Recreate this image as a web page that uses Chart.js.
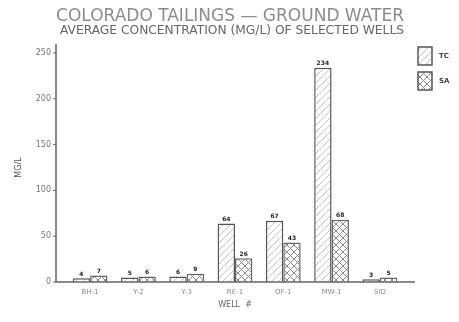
<!DOCTYPE html>
<html>
<head>
<meta charset="utf-8">
<script src="https://cdn.jsdelivr.net/npm/chart.js@4.4.1/dist/chart.umd.min.js"></script>
<style>
  html, body { margin: 0; padding: 0; background: #fff; }
  #wrap { width: 459px; height: 322px; }
</style>
</head>
<body>
<div id="wrap"><canvas id="wellChart" width="459" height="322"></canvas></div>
<script>
// data (MG/L)
const wells = ['BH-1', 'Y-2', 'Y-3', 'RE-1', 'OF-1', 'MW-1', 'SID'];
const tcValues = [4, 5, 6, 64, 67, 234, 3];
const saValues = [7, 6, 9, 26, 43, 68, 5];
const seriesNames = ['TC', 'SA'];
const yTicks = [0, 50, 100, 150, 200, 250];

function makePattern(cross, color) {
    const c = document.createElement('canvas');
    c.width = 7;
    c.height = 7;
    const g = c.getContext('2d');
    g.fillStyle = '#fff';
    g.fillRect(0, 0, 7, 7);
    g.strokeStyle = color;
    g.lineWidth = 1;
    g.beginPath();
    g.moveTo(0, 7); g.lineTo(7, 0);
    if (cross) { g.moveTo(0, 0); g.lineTo(7, 7); }
    g.stroke();
    return g.createPattern(c, 'repeat');
}

const hatchTC = makePattern(false, '#c4c4c4');
const hatchSA = makePattern(true, '#8a8a8a');

// axis lines, value blobs and legend drawn like the old plot
const scanPlugin = {
    id: 'scanExtras',
    afterDraw(chart) {
        const ctx = chart.ctx;
        const y = chart.scales.y;
        const area = chart.chartArea;
        ctx.save();
        ctx.strokeStyle = '#666';
        ctx.lineWidth = 1.5;
        ctx.beginPath();
        ctx.moveTo(56, y.getPixelForValue(260));
        ctx.lineTo(56, area.bottom);
        ctx.lineTo(415, area.bottom);
        ctx.stroke();
        ctx.lineWidth = 1;
        yTicks.forEach(v => {
            const py = y.getPixelForValue(v);
            ctx.beginPath();
            ctx.moveTo(53, py);
            ctx.lineTo(56, py);
            ctx.stroke();
        });

        // value labels on top of each bar
        ctx.fillStyle = '#222';
        ctx.font = 'bold 6px "DejaVu Sans"';
        ctx.textAlign = 'center';
        ctx.textBaseline = 'bottom';
        chart.data.datasets.forEach((ds, di) => {
            chart.getDatasetMeta(di).data.forEach((bar, i) => {
                ctx.fillText(String(ds.data[i]), bar.x, bar.y - 1);
            });
        });

        // legend boxes on the right
        const boxes = [hatchTC, hatchSA];
        ctx.textAlign = 'left';
        ctx.textBaseline = 'middle';
        ctx.font = 'bold 7px "DejaVu Sans"';
        boxes.forEach((pat, k) => {
            const top = 47 + k * 25;
            ctx.fillStyle = pat;
            ctx.fillRect(418, top, 14, 18);
            ctx.strokeStyle = '#555';
            ctx.lineWidth = 1.5;
            ctx.strokeRect(418, top, 14, 18);
            ctx.fillStyle = '#444';
            ctx.fillText(seriesNames[k], 439, top + 9);
        });
        ctx.restore();
    }
};

new Chart(document.getElementById('wellChart').getContext('2d'), {
    type: 'bar',
    data: {
        labels: wells,
        datasets: [
            {
                label: seriesNames[0],
                data: tcValues,
                backgroundColor: hatchTC,
                borderColor: '#555',
                borderWidth: 1.5,
                borderSkipped: 'bottom'
            },
            {
                label: seriesNames[1],
                data: saValues,
                backgroundColor: hatchSA,
                borderColor: '#666',
                borderWidth: 1.5,
                borderSkipped: 'bottom'
            }
        ]
    },
    options: {
        responsive: false,
        animation: false,
        devicePixelRatio: 1,
        layout: { padding: { top: 0, right: 55, bottom: 12, left: 0 } },
        datasets: { bar: { categoryPercentage: 0.72, barPercentage: 1 } },
        scales: {
            x: {
                grid: { display: false, drawTicks: false },
                border: { display: false },
                ticks: { color: '#888', font: { size: 7, family: 'DejaVu Sans' }, padding: 6 },
                title: { display: true, text: 'WELL  #', color: '#666', font: { size: 8, family: 'DejaVu Sans' }, padding: { top: 2, bottom: 0 } },
                afterFit: scale => { scale.height = 28; }
            },
            y: {
                min: 0,
                max: 250,
                grid: { display: false, drawTicks: false },
                border: { display: false },
                ticks: { stepSize: 50, color: '#777', font: { size: 8, family: 'DejaVu Sans' }, padding: 15 },
                title: { display: true, text: 'MG/L', color: '#555', font: { size: 8, family: 'DejaVu Sans' }, padding: { top: 14, bottom: 0 } },
                afterFit: scale => { scale.width = 66; }
            }
        },
        plugins: {
            legend: { display: false },
            tooltip: { enabled: false },
            title: {
                display: true,
                align: 'end',
                text: 'COLORADO TAILINGS \u2014 GROUND WATER',
                color: '#8c8c8c',
                font: { size: 17, weight: 'normal', family: 'DejaVu Sans', lineHeight: 1 },
                padding: { top: 8, bottom: 0 }
            },
            subtitle: {
                display: true,
                align: 'end',
                text: 'AVERAGE CONCENTRATION (MG/L) OF SELECTED WELLS',
                color: '#666',
                font: { size: 12.25, family: 'DejaVu Sans', lineHeight: 1 },
                padding: { top: 0, bottom: 15.75 }
            }
        }
    },
    plugins: [scanPlugin]
});
</script>
</body>
</html>
